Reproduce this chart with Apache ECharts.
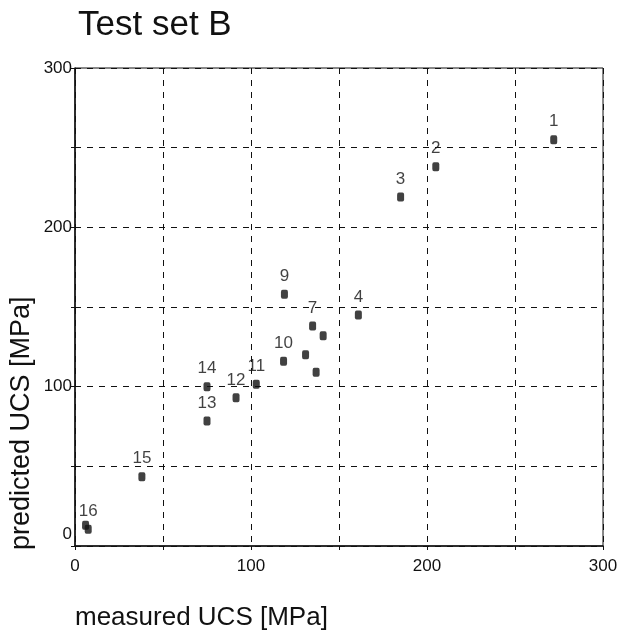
<!DOCTYPE html>
<html>
<head>
<meta charset="utf-8">
<script src="https://cdn.jsdelivr.net/npm/echarts@6/dist/echarts.min.js"></script>
<style>
  html, body { margin: 0; padding: 0; background: #fff; }
  #chart { width: 622px; height: 637px; }
</style>
</head>
<body>
<div id="chart"></div>
<script>
var measured  = [272, 205, 185, 161, 137, 131, 135, 141, 119, 118.5, 103, 91.5, 75, 75, 38, 7.5, 6];
var predicted = [255, 238, 219, 145, 109, 120, 138, 132, 158, 116, 101.5, 93, 78.5, 100, 43.5, 10.5, 13];
var pointLabels = ['1', '2', '3', '4', '', '', '7', '', '9', '10', '11', '12', '13', '14', '15', '16', ''];
var tickValues = [0, 100, 200, 300];

var fontFam = 'Liberation Sans, Arial, sans-serif';

var points = [];
for (var i = 0; i < measured.length; i++) {
    points.push({
        value: [measured[i], predicted[i]],
        label: { show: pointLabels[i] !== '', formatter: pointLabels[i] }
    });
}

var chart = echarts.init(document.getElementById('chart'));
var option = {
    animation: false,
    backgroundColor: '#fff',
    title: {
        text: 'Test set B',
        left: 73,
        top: 3,
        textStyle: { fontFamily: fontFam, fontSize: 35, fontWeight: 'normal', color: '#111' }
    },
    grid: {
        left: 75, right: 19, top: 68, bottom: 91,
        show: true, borderColor: '#111', borderWidth: 1
    },
    xAxis: {
        type: 'value', min: 0, max: 300, interval: 50,
        axisLine: { show: true, lineStyle: { color: '#111', width: 1.5 } },
        axisTick: { show: true, length: 4, lineStyle: { color: '#111' } },
        axisLabel: {
            margin: 12, color: '#111', fontFamily: fontFam, fontSize: 17,
            formatter: function (v) { return tickValues.indexOf(v) >= 0 ? String(v) : ''; }
        },
        splitLine: { show: true, lineStyle: { color: '#111', type: [6, 6], width: 1 } }
    },
    yAxis: {
        type: 'value', min: 0, max: 300, interval: 50,
        axisLine: { show: true, lineStyle: { color: '#111', width: 1.5 } },
        axisTick: { show: true, length: 4, lineStyle: { color: '#111' } },
        axisLabel: {
            margin: 3, color: '#111', fontFamily: fontFam, fontSize: 17,
            formatter: function (v) {
                if (v === 0) return '{z|0}';
                return tickValues.indexOf(v) >= 0 ? String(v) : '';
            },
            rich: { z: { fontFamily: fontFam, fontSize: 17, color: '#111', padding: [0, 0, 24, 0] } }
        },
        splitLine: { show: true, lineStyle: { color: '#111', type: [6, 6], width: 1 } }
    },
    graphic: [
        {
            type: 'text', left: 75, top: 605,
            style: { text: 'measured UCS [MPa]', fontFamily: fontFam, fontSize: 26, fill: '#111' }
        },
        {
            type: 'text', x: 8, y: 550, rotation: Math.PI / 2,
            style: { text: 'predicted UCS [MPa]', fontFamily: fontFam, fontSize: 27, fill: '#111',
                     textAlign: 'left', textVerticalAlign: 'top' }
        }
    ],
    series: [{
        type: 'scatter',
        data: points,
        symbol: 'roundRect',
        symbolSize: [7, 9],
        itemStyle: { color: '#111' },
        label: {
            position: 'top', distance: 5, color: '#111',
            fontFamily: fontFam, fontSize: 17
        }
    }]
};
chart.setOption(option);
</script>
</body>
</html>
